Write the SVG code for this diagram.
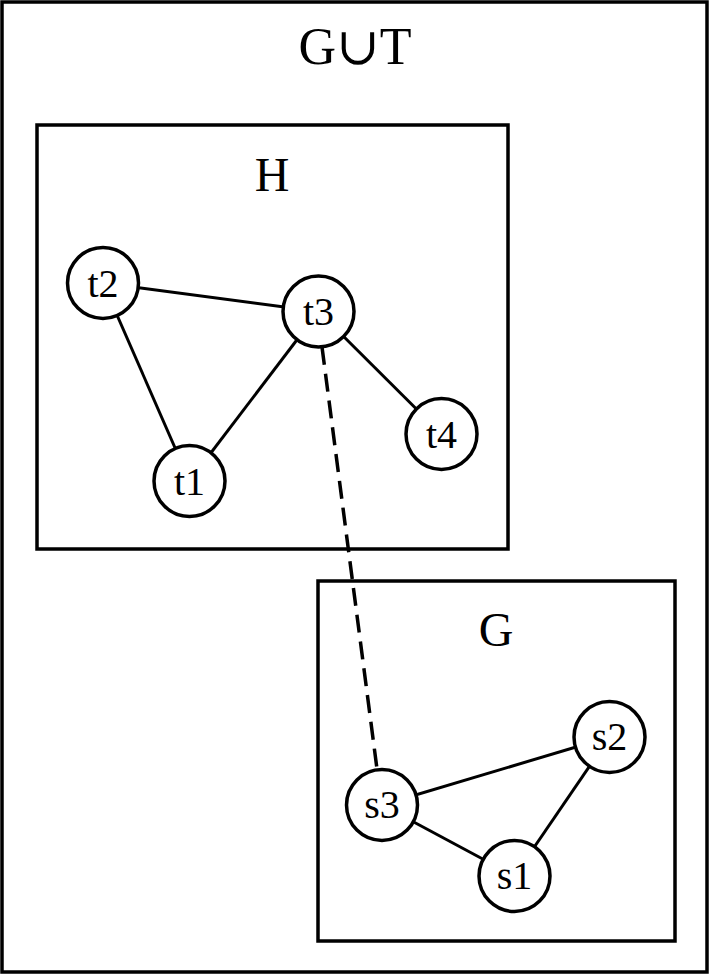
<svg xmlns="http://www.w3.org/2000/svg" width="710" height="976" viewBox="0 0 710 976">
<style>
.box{fill:none;stroke:#000;stroke-width:3.5}
.node circle{fill:#fff;stroke:#000;stroke-width:3.5}
.lbl{font-family:"Liberation Serif","DejaVu Serif",serif;font-size:40px;text-anchor:middle;fill:#000}
.title{font-family:"Liberation Serif","DejaVu Serif",serif;text-anchor:middle;fill:#000}
.edge{stroke:#000;stroke-width:3;fill:none}
.dash{stroke:#000;stroke-width:3.5;fill:none;stroke-dasharray:18 9}
</style>
<rect width="710" height="976" fill="#fff"/>
<g id="outer"><rect class="box" x="2" y="2" width="705" height="970"/>
<text class="title" x="355" y="64" font-size="52">G∪T</text></g>
<g id="H"><rect class="box" x="37" y="125" width="471" height="424"/>
<text class="title" x="272" y="191" font-size="48">H</text></g>
<g id="G"><rect class="box" x="318" y="581" width="357" height="360"/>
<text class="title" x="496" y="646" font-size="48">G</text></g>
<g id="connectors">
<line class="edge" x1="103" y1="283" x2="318.5" y2="311.5"/>
<line class="edge" x1="103" y1="283" x2="189.5" y2="481"/>
<line class="edge" x1="189.5" y1="481" x2="318.5" y2="311.5"/>
<line class="edge" x1="318.5" y1="311.5" x2="441.5" y2="434"/>
<line class="dash" x1="322" y1="347" x2="377" y2="769"/>
<line class="edge" x1="382" y1="805" x2="609.5" y2="737"/>
<line class="edge" x1="382" y1="805" x2="514.5" y2="876"/>
<line class="edge" x1="514.5" y1="876" x2="609.5" y2="737"/>
</g>
<g id="t2" class="node"><circle cx="103" cy="283" r="35.5"/><text class="lbl" x="103" y="297">t2</text></g>
<g id="t3" class="node"><circle cx="318.5" cy="311.5" r="35.5"/><text class="lbl" x="318.5" y="325">t3</text></g>
<g id="t1" class="node"><circle cx="189.5" cy="481" r="35.5"/><text class="lbl" x="189.5" y="495">t1</text></g>
<g id="t4" class="node"><circle cx="441.5" cy="434" r="35.5"/><text class="lbl" x="441.5" y="448">t4</text></g>
<g id="s3" class="node"><circle cx="382" cy="805" r="35.5"/><text class="lbl" x="382" y="818">s3</text></g>
<g id="s2" class="node"><circle cx="609.5" cy="737" r="35.5"/><text class="lbl" x="609.5" y="750">s2</text></g>
<g id="s1" class="node"><circle cx="514.5" cy="876" r="35.5"/><text class="lbl" x="514.5" y="889">s1</text></g>
</svg>
